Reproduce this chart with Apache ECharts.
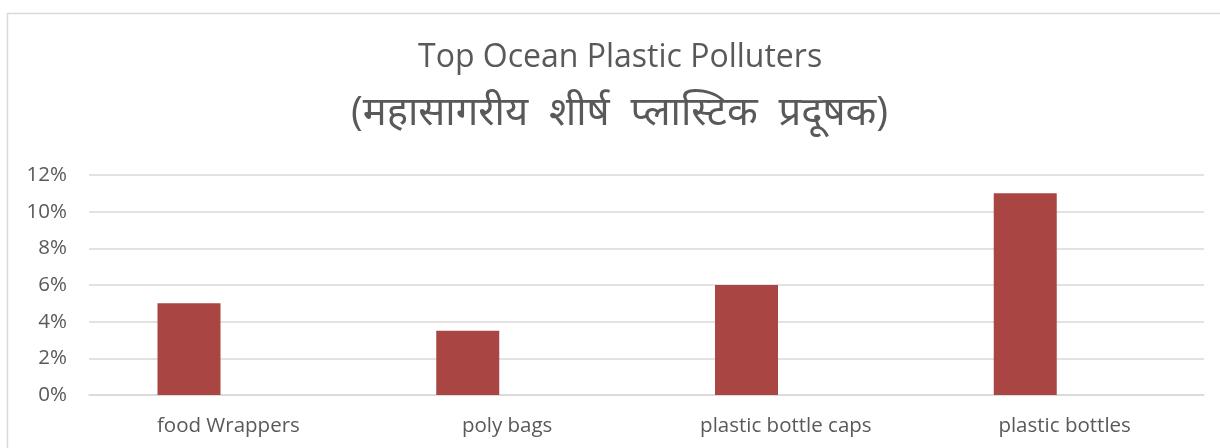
<!DOCTYPE html>
<html><head><meta charset="utf-8">
<script src="https://cdn.jsdelivr.net/npm/echarts@6/dist/echarts.min.js"></script>
<style>html,body{margin:0;padding:0;background:#fff}#c{width:1220px;height:448px}</style>
</head><body><div id="c"></div>
<script>
const categories = ['food Wrappers', 'poly bags', 'plastic bottle caps', 'plastic bottles'];
const values = [5, 3.5, 6, 11];
const emptySeries = [null, null, null, null];
const titleLine1 = 'Top Ocean Plastic Polluters';
const titleLine2 = '(महासागरीय  शीर्ष  प्लास्टिक  प्रदूषक)';

const chart = echarts.init(document.getElementById('c'));
const font = '"Open Sans", "Noto Sans", sans-serif';
chart.setOption({
  animation: false,
  backgroundColor: '#fff',
  graphic: [{
    type: 'rect', shape: {x: 7.5, y: 13.5, width: 1300, height: 500},
    style: {fill: 'none', stroke: '#d9d9d9', lineWidth: 1.5}, z: -1
  }],
  title: [{
    text: titleLine1, left: 418, top: 42, padding: 0,
    textStyle: {fontFamily: font, fontWeight: 'normal', fontSize: 32, color: '#595959'}
  }, {
    text: titleLine2, left: 351, top: 94, padding: 0,
    textStyle: {fontFamily: font, fontWeight: 'normal', fontSize: 40, color: '#595959'}
  }],
  grid: {left: 89, right: 16, top: 175, bottom: 53, containLabel: false},
  xAxis: {
    type: 'category', data: categories,
    axisLine: {show: true, lineStyle: {color: '#d9d9d9', width: 1.5}},
    axisTick: {show: false},
    axisLabel: {fontFamily: font, fontSize: 20.5, color: '#595959', margin: 21}
  },
  yAxis: {
    type: 'value', min: 0, max: 12, interval: 2,
    axisLine: {show: false}, axisTick: {show: false},
    splitLine: {lineStyle: {color: '#d9d9d9', width: 1.5}},
    axisLabel: {fontFamily: font, fontSize: 20.5, color: '#595959', margin: 22, formatter: '{value}%'}
  },
  series: [{
    type: 'bar', data: values, barWidth: 63, barGap: '25%',
    itemStyle: {color: '#a94643'}
  }, {
    type: 'bar', data: emptySeries, barWidth: 63
  }]
});
</script></body></html>
